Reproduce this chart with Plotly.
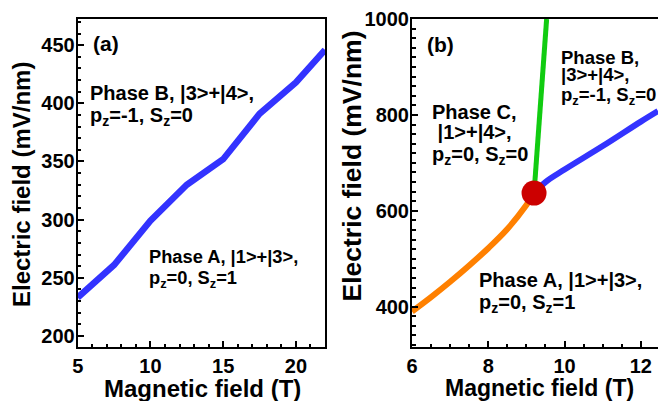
import plotly.graph_objects as go

# ---- data ----
# panel (a): phase boundary A/B
a_field_T = [5, 7.5, 10, 12.5, 15, 17.5, 20, 22]
a_efield = [233, 261, 299, 330, 352, 391, 418, 446]

# panel (b): boundaries
b_orange_T = [6, 6.5, 7, 7.5, 8, 8.5, 9, 9.2]
b_orange_E = [390, 420, 452, 486, 522, 562, 612, 637]
b_green_T = [9.2, 9.37, 9.53]
b_green_E = [637, 820, 1000]
b_blue_T = [9.2, 9.5, 10, 11, 12, 12.45]
b_blue_E = [637, 660, 686, 735, 786, 808]
triple_T = [9.2]
triple_E = [637]

W, H = 658, 401
FONT = "Liberation Sans, Arial, Helvetica, sans-serif"
BLUE = "#3333ff"
ORANGE = "#ff8000"
GREEN = "#11cc11"
RED = "#cc0000"


def px(x):
    return x / W


def py(y):
    return 1 - y / H


fig = go.Figure()
fig.add_trace(go.Scatter(x=a_field_T, y=a_efield, mode="lines",
                         line=dict(color=BLUE, width=6.5), xaxis="x", yaxis="y"))
fig.add_trace(go.Scatter(x=b_orange_T, y=b_orange_E, mode="lines",
                         line=dict(color=ORANGE, width=6, shape="spline"),
                         xaxis="x2", yaxis="y2"))
fig.add_trace(go.Scatter(x=b_green_T, y=b_green_E, mode="lines",
                         line=dict(color=GREEN, width=5), xaxis="x2", yaxis="y2"))
fig.add_trace(go.Scatter(x=b_blue_T, y=b_blue_E, mode="lines",
                         line=dict(color=BLUE, width=6, shape="spline"),
                         xaxis="x2", yaxis="y2"))
fig.add_trace(go.Scatter(x=triple_T, y=triple_E, mode="markers",
                         marker=dict(color=RED, size=25, line=dict(width=0)),
                         xaxis="x2", yaxis="y2"))

tickfont = dict(family=FONT, size=20, color="black", weight="bold")


def axis_common(**kw):
    d = dict(showgrid=False, zeroline=False, showline=True, linecolor="black",
             linewidth=2, ticks="inside", ticklen=6, tickwidth=1.5,
             tickcolor="black", tickfont=tickfont, automargin=False)
    d.update(kw)
    return d


def minor(dt):
    return dict(ticks="inside", ticklen=3.5, dtick=dt, tickwidth=1.5,
                tickcolor="black")


top_px, bot_px = 19, 347
fig.update_layout(
    width=W, height=H,
    margin=dict(l=0, r=0, t=0, b=0, autoexpand=False),
    paper_bgcolor="white", plot_bgcolor="white",
    showlegend=False,
    xaxis=axis_common(domain=[px(77.7), px(325)], range=[5, 22], dtick=5,
                      tick0=0, mirror=True, anchor="y", minor=minor(1)),
    yaxis=axis_common(domain=[py(bot_px), py(top_px)], range=[190.5, 472.5],
                      dtick=50, tick0=0, mirror=True, anchor="x",
                      minor=minor(10), ticklabelstandoff=-3),
    xaxis2=axis_common(domain=[px(412), 1.0], range=[6, 12.45], dtick=2,
                       tick0=0, mirror=True, anchor="y2", minor=minor(0.5)),
    yaxis2=axis_common(domain=[py(bot_px), py(top_px)], range=[316, 1000],
                       dtick=200, tick0=0, mirror=False, anchor="x2",
                       minor=minor(20), ticklabelstandoff=-3),
)


def label(text, x, baseline, size):
    # place by approximate baseline (pixel coords)
    yc = baseline - 0.33 * size
    if "<sub>" in text:
        yc += 5
    fig.add_annotation(text="<b>" + text + "</b>", x=px(x), y=py(yc),
                       xref="paper", yref="paper", xanchor="left",
                       yanchor="middle", showarrow=False, borderpad=0,
                       font=dict(family=FONT, size=size, color="black"))


def title(text, xc, yc, size, angle=0):
    fig.add_annotation(text="<b>" + text + "</b>", x=px(xc), y=py(yc),
                       xref="paper", yref="paper", xanchor="center",
                       yanchor="middle", showarrow=False, borderpad=0,
                       textangle=angle,
                       font=dict(family=FONT, size=size, color="black"))


# axis titles
title("Magnetic field (T)", 202.5, 388, 24)
title("Magnetic field (T)", 539.5, 387.5, 23)
title("Electric field (mV/nm)", 21, 185, 24, -90)
title("Electric field (mV/nm)", 351.5, 166, 26.5, -90)

# panel labels
label("(a)", 92, 50, 21)
label("Phase B, |3>+|4>,", 89, 99.3, 20)
label("p<sub>z</sub>=-1, S<sub>z</sub>=0", 89, 118.3, 20)
label("Phase A, |1>+|3>,", 147.5, 262.7, 18.3)
label("p<sub>z</sub>=0, S<sub>z</sub>=1", 147.5, 280, 18.3)

label("(b)", 426, 51, 21)
label("Phase B,", 560, 63.3, 18.5)
label("|3>+|4>,", 560, 80.5, 18.5)
label("p<sub>z</sub>=-1, S<sub>z</sub>=0", 560, 97, 18.5)
label("Phase C,", 431, 118.3, 20)
label(" |1>+|4>,", 431, 138.3, 20)
label("p<sub>z</sub>=0, S<sub>z</sub>=0", 431, 156.7, 20)
label("Phase A, |1>+|3>,", 477.5, 286.7, 20)
label("p<sub>z</sub>=0, S<sub>z</sub>=1", 477.5, 305, 20)

fig.write_html("out.html",
               config={"displayModeBar": False},
               post_script="document.body.style.margin='0';"
                           "document.body.style.overflow='hidden';")
